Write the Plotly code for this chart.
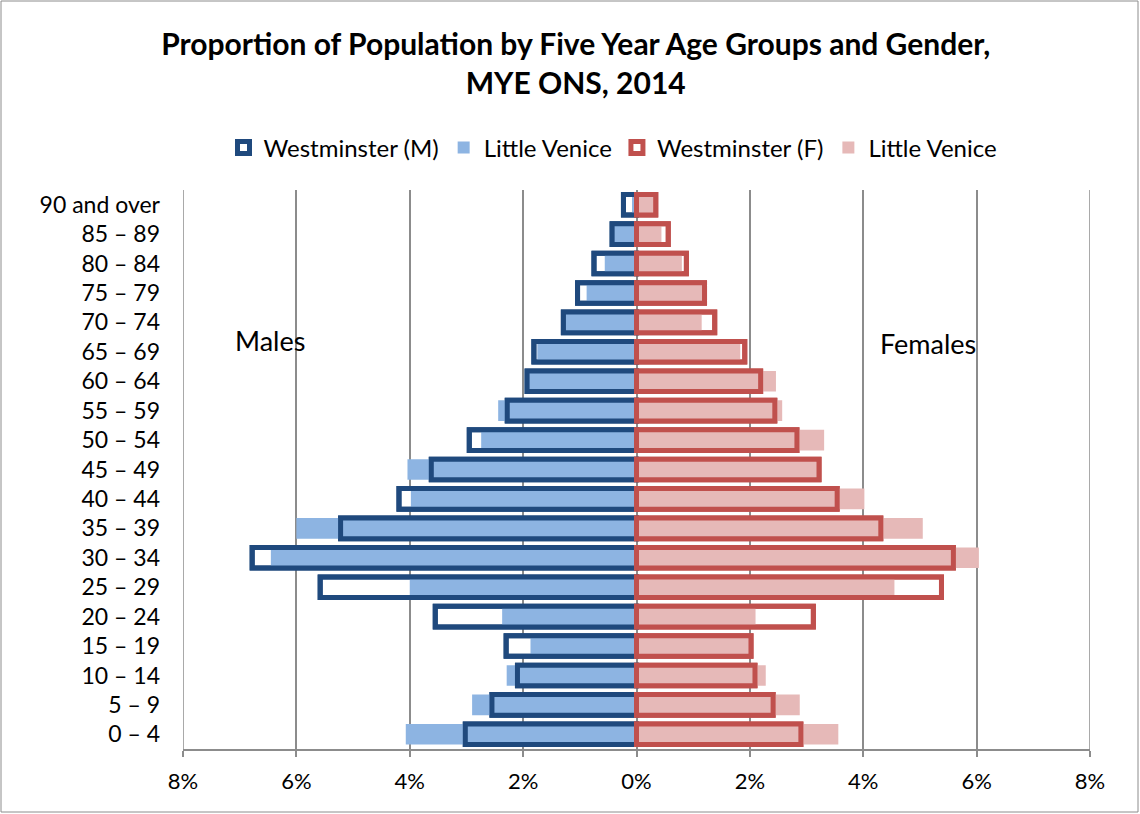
import plotly.graph_objects as go

# age bands, bottom to top
ages = ["0 – 4", "5 – 9", "10 – 14", "15 – 19", "20 – 24", "25 – 29", "30 – 34",
        "35 – 39", "40 – 44", "45 – 49", "50 – 54", "55 – 59", "60 – 64",
        "65 – 69", "70 – 74", "75 – 79", "80 – 84", "85 – 89", "90 and over"]

# % of population
westminster_m = [3.02, 2.55, 2.10, 2.30, 3.55, 5.58, 6.78, 5.22, 4.19, 3.62,
                 2.95, 2.28, 1.93, 1.81, 1.29, 1.04, 0.75, 0.43, 0.23]
venice_m = [4.07, 2.90, 2.29, 1.87, 2.37, 4.00, 6.45, 6.00, 3.98, 4.04,
            2.74, 2.44, 1.90, 1.75, 1.25, 0.88, 0.56, 0.40, 0.08]
westminster_f = [2.90, 2.41, 2.09, 2.02, 3.12, 5.38, 5.59, 4.31, 3.54, 3.22,
                 2.83, 2.44, 2.19, 1.91, 1.38, 1.20, 0.88, 0.56, 0.34]
venice_f = [3.56, 2.88, 2.28, 1.98, 2.10, 4.55, 6.04, 5.05, 4.02, 3.18,
            3.31, 2.57, 2.46, 1.83, 1.15, 1.16, 0.80, 0.44, 0.30]

tick_vals = [-8, -6, -4, -2, 0, 2, 4, 6, 8]
tick_text = ["8%", "6%", "4%", "2%", "0%", "2%", "4%", "6%", "8%"]

DARK_BLUE = "#1F497D"
LIGHT_BLUE = "#8DB4E2"
DARK_RED = "#C0504D"
PINK = "#E6B9B8"
GRID = "#8C8C8C"
FONT = "Lato"

BAR_W = 0.7
LINE_W = 5

fig = go.Figure()


def add_side(west, venice, sign, dark, light, label):
    wx = [sign * v for v in west]
    vx = [sign * v for v in venice]
    # white-filled Westminster bar (legend entry)
    fig.add_trace(go.Bar(x=wx, y=ages, orientation="h", width=BAR_W, name=label,
                         marker=dict(color="white", line=dict(color=dark, width=LINE_W))))
    fig.add_trace(go.Bar(x=vx, y=ages, orientation="h", width=BAR_W, name="Little Venice",
                         marker=dict(color=light, line=dict(width=0))))
    # Westminster outline drawn on top
    fig.add_trace(go.Bar(x=wx, y=ages, orientation="h", width=BAR_W, showlegend=False,
                         hoverinfo="skip",
                         marker=dict(color="rgba(0,0,0,0)", line=dict(color=dark, width=LINE_W))))


add_side(westminster_m, venice_m, -1, DARK_BLUE, LIGHT_BLUE, "Westminster (M)")
add_side(westminster_f, venice_f, 1, DARK_RED, PINK, "Westminster (F)")

# plot area in pixels
L, R, T, B = 183, 1090, 190, 749
W, H = 1140, 814


def px_x(p):
    return (p - L) / (R - L)


def px_y(p):
    return (B - p) / (B - T)


fig.update_layout(
    width=W, height=H,
    margin=dict(l=L, r=W - R, t=T, b=H - B, autoexpand=False),
    barmode="overlay",
    plot_bgcolor="white",
    paper_bgcolor="white",
    font=dict(family=FONT, color="black"),
    title=dict(
        text="<b>Proportion of Population by Five Year Age Groups and Gender,<br>MYE ONS, 2014</b>",
        x=0.505, xanchor="center", y=1 - 55 / H, yanchor="top",
        font=dict(size=30, family=FONT),
    ),
    legend=dict(
        orientation="h", x=px_x(613), xanchor="center", y=px_y(148), yanchor="middle",
        font=dict(size=24, family=FONT), traceorder="normal",
        itemwidth=30, tracegroupgap=0,
    ),
    xaxis=dict(
        range=[-8, 8], tickvals=tick_vals, ticktext=tick_text,
        showgrid=True, gridcolor=GRID, gridwidth=1.5,
        zeroline=True, zerolinecolor=GRID, zerolinewidth=1.5,
        showline=True, linecolor=GRID, linewidth=1.5,
        ticks="outside", ticklen=6, tickcolor=GRID, tickwidth=1.5,
        ticklabelstandoff=6,
        tickfont=dict(size=22, family=FONT), fixedrange=True,
    ),
    yaxis=dict(
        type="category", categoryorder="array", categoryarray=ages,
        range=[-0.5, len(ages) - 0.5],
        showgrid=False, ticks="", ticklabelstandoff=22,
        tickfont=dict(size=23, family=FONT), fixedrange=True,
    ),
    annotations=[
        dict(text="Males", x=px_x(270), y=px_y(340), xref="paper", yref="paper",
             xanchor="center", yanchor="middle",
             showarrow=False, font=dict(size=27, family=FONT)),
        dict(text="Females", x=px_x(928), y=px_y(343), xref="paper", yref="paper",
             xanchor="center", yanchor="middle",
             showarrow=False, font=dict(size=27, family=FONT)),
    ],
    shapes=[
        dict(type="line", xref="x", yref="paper", x0=-8, x1=-8, y0=0, y1=1,
             line=dict(color=GRID, width=1.5), layer="below"),
        dict(type="line", xref="x", yref="paper", x0=8, x1=8, y0=0, y1=1,
             line=dict(color=GRID, width=1.5), layer="below"),
        dict(type="rect", xref="paper", yref="paper",
             x0=px_x(1), x1=px_x(1138), y0=px_y(812), y1=px_y(1),
             line=dict(color=GRID, width=1), fillcolor="rgba(0,0,0,0)"),
    ],
)

fig.write_html("out.html", config={"displayModeBar": False},
               post_script="document.body.style.margin='0';")
